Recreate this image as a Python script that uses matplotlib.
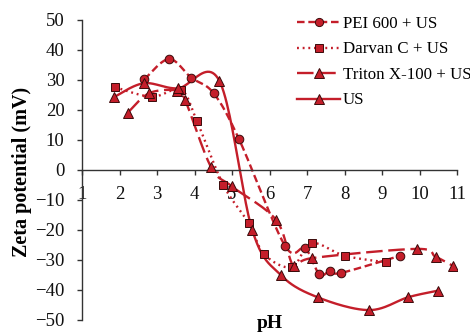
import numpy as np
import matplotlib
matplotlib.use("Agg")
import matplotlib.pyplot as plt
from matplotlib.lines import Line2D

# ---- data ----
pei_ph = [2.66, 3.32, 3.91, 4.51, 5.19, 6.41, 6.95, 7.33, 7.61, 7.91, 9.48]
pei_z = [30.2, 37.0, 30.8, 25.6, 10.2, -25.2, -26.1, -34.8, -33.7, -34.3, -28.6]

darvan_ph = [1.88, 2.86, 3.64, 4.06, 4.77, 5.45, 5.86, 6.59, 7.12, 8.01, 9.12]
darvan_z = [27.6, 24.4, 26.7, 16.4, -5.0, -17.8, -28.1, -32.4, -24.4, -28.6, -30.8]

triton_ph = [2.22, 2.79, 3.52, 3.75, 4.44, 4.99, 6.18, 6.64, 7.12, 9.92, 10.43, 10.9]
triton_z = [19.1, 25.6, 26.5, 23.3, 1.0, -5.4, -16.7, -32.0, -29.4, -26.3, -28.9, -32.0]

us_ph = [1.84, 2.64, 3.55, 4.66, 5.54, 6.30, 7.28, 8.66, 9.70, 10.50]
us_z = [24.2, 28.9, 27.2, 29.8, -20.0, -35.0, -42.4, -46.7, -42.4, -40.2]

labels = ["PEI 600 + US", "Darvan C + US", "Triton X-100 + US", "US"]
xticks = list(range(1, 12))
yticks = list(range(-50, 51, 10))

RED = "#C41E2A"
EDGE = "#3a0a0a"


def smooth(x, y, n=24):
    """Excel-like smoothed line (uniform Catmull-Rom through the points)."""
    p = np.column_stack([x, y]).astype(float)
    p = np.vstack([p[0], p, p[-1]])
    out = []
    t = np.linspace(0, 1, n, endpoint=False)
    for i in range(1, len(p) - 2):
        p0, p1, p2, p3 = p[i - 1], p[i], p[i + 1], p[i + 2]
        c1 = p1 + (p2 - p0) / 6.0
        c2 = p2 - (p3 - p1) / 6.0
        for tt in t:
            b = ((1 - tt) ** 3) * p1 + 3 * ((1 - tt) ** 2) * tt * c1 \
                + 3 * (1 - tt) * tt ** 2 * c2 + tt ** 3 * p2
            out.append(b)
    out.append(p[-2])
    out = np.array(out)
    return out[:, 0], out[:, 1]


plt.rcParams["font.family"] = ["Liberation Serif", "DejaVu Serif"]

fig = plt.figure(figsize=(4.70, 3.35), dpi=100)
ax = fig.add_axes([82 / 470, 1 - 320 / 335, (457 - 82) / 470, 300 / 335])

styles = [
    dict(ls=(0, (3.2, 1.6)), marker="o", ms=6.2),
    dict(ls=(0, (0.8, 1.6)), marker="s", ms=5.8),
    dict(ls=(0, (7, 2.4)), marker="^", ms=7.2),
    dict(ls="-", marker="^", ms=7.2),
]
series = [(pei_ph, pei_z), (darvan_ph, darvan_z), (triton_ph, triton_z), (us_ph, us_z)]

handles = []
for (xs, ys), st, lab in zip(series, styles, labels):
    sx, sy = smooth(xs, ys)
    ax.plot(sx, sy, color=RED, lw=1.7, ls=st["ls"], zorder=2)
    ax.plot(xs, ys, ls="none", marker=st["marker"], ms=st["ms"],
            mfc=RED, mec=EDGE, mew=0.7, zorder=3)
    handles.append(Line2D([], [], color=RED, lw=1.7, ls=st["ls"],
                          marker=st["marker"], ms=st["ms"] * 0.95,
                          mfc=RED, mec=EDGE, mew=0.7))

ax.set_xlim(1, 11)
ax.set_ylim(-50, 50)
ax.set_xticks(xticks)
ax.set_yticks(yticks)
ax.spines["top"].set_visible(False)
ax.spines["right"].set_visible(False)
ax.spines["bottom"].set_position(("data", 0))
for s in ("left", "bottom"):
    ax.spines[s].set_color("#333333")
    ax.spines[s].set_linewidth(1.0)
ax.tick_params(axis="both", direction="out", length=3.6, width=1.0,
               colors="#333333", labelcolor="#111111", labelsize=13.5)
ax.tick_params(axis="x", pad=8)
ax.tick_params(axis="y", pad=9)

fig.text(22 / 470, 1 - 172 / 335, "Zeta potential (mV)", rotation=90,
         ha="center", va="center", fontsize=14.5, fontweight="bold")
fig.text(270 / 470, 1 - 324 / 335, "pH", ha="center", va="center",
         fontsize=14, fontweight="bold")

fig.legend(handles, labels, loc="upper left", bbox_to_anchor=(297 / 470, 1 - 16 / 335),
           frameon=False, fontsize=12.2, handlelength=2.55, handletextpad=0.15,
           labelspacing=0.56, borderaxespad=0, borderpad=0)

fig.savefig("out.png", dpi=100)
